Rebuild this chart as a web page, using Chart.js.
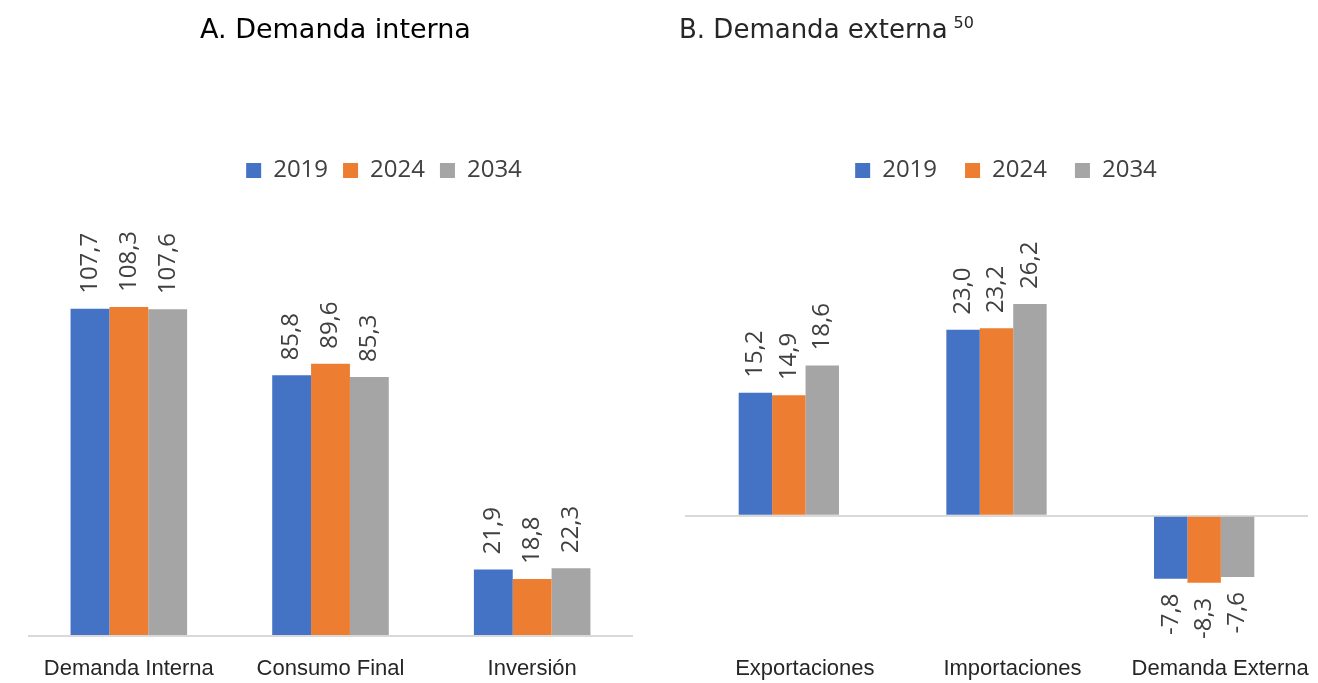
<!DOCTYPE html>
<html lang="es">
<head>
<meta charset="utf-8">
<title>Demanda interna y externa</title>
<script src="https://cdn.jsdelivr.net/npm/chart.js@4.4.1/dist/chart.umd.min.js"></script>
<style>
  html, body { margin: 0; padding: 0; background: #fff; overflow: hidden; }
  body { width: 1318px; height: 683px; position: relative; }
  .titulo { position: absolute; top: 12px; font-family: "DejaVu Sans", sans-serif; white-space: nowrap; line-height: 34px; z-index: 2; }
  #titA { left: 200px; font-size: 27px; color: #000; }
  #titB { left: 679px; font-size: 26px; color: #262626; }
  #titB sup { font-size: 16px; line-height: 0; vertical-align: 10px; margin-left: 6px; }
  .panel { position: absolute; top: 0; height: 683px; }
  #panelA { left: 0; width: 768px; }
  #panelB { left: 672px; width: 668px; }
</style>
</head>
<body>
<div class="titulo" id="titA">A. Demanda interna</div>
<div class="titulo" id="titB">B. Demanda externa<sup>50</sup></div>
<div class="panel" id="panelA"><canvas id="graficoA"></canvas></div>
<div class="panel" id="panelB"><canvas id="graficoB"></canvas></div>
<script>
// datos
const anios = ['2019', '2024', '2034'];
const colores = ['#4472C4', '#ED7D31', '#A5A5A5'];

const categoriasA = ['Demanda Interna', 'Consumo Final', 'Inversión'];
const interna2019 = [107.7, 85.8, 21.9];
const interna2024 = [108.3, 89.6, 18.8];
const interna2034 = [107.6, 85.3, 22.3];

const categoriasB = ['Exportaciones', 'Importaciones', 'Demanda Externa'];
const externa2019 = [15.2, 23.0, -7.8];
const externa2024 = [14.9, 23.2, -8.3];
const externa2034 = [18.6, 26.2, -7.6];

// etiquetas giradas encima / debajo de cada barra
const etiquetas = {
  id: 'etiquetas',
  afterDatasetsDraw(chart) {
    const ctx = chart.ctx;
    ctx.save();
    ctx.font = '24px "Open Sans"';
    ctx.fillStyle = '#404040';
    ctx.textBaseline = 'middle';
    chart.data.datasets.forEach((ds, i) => {
      chart.getDatasetMeta(i).data.forEach((bar, j) => {
        const v = ds.data[j];
        const txt = v.toFixed(1).replace('.', ',');
        ctx.save();
        if (v >= 0) {
          ctx.translate(bar.x, bar.y - 15);
          ctx.textAlign = 'left';
        } else {
          ctx.translate(bar.x, bar.y + 15);
          ctx.textAlign = 'right';
        }
        ctx.rotate(-Math.PI / 2);
        ctx.fillText(txt, 0, 0);
        ctx.restore();
      });
    });
    ctx.restore();
  }
};

function series(valores) {
  return valores.map((d, i) => ({
    label: anios[i],
    data: d,
    backgroundColor: colores[i],
    borderWidth: 0
  }));
}

function opciones(cfg) {
  return {
    responsive: true,
    maintainAspectRatio: false,
    animation: false,
    // la leyenda termina siempre 22px bajo su centro (158.5 + 12 + 22 = 192.5)
    layout: { padding: { top: 158.5 - cfg.sep, left: 0, right: 0, bottom: 0 } },
    datasets: { bar: { barPercentage: 1, categoryPercentage: cfg.ancho } },
    plugins: {
      tooltip: { enabled: false },
      legend: {
        position: 'top',
        labels: {
          boxWidth: 15,
          boxHeight: 15,
          padding: cfg.sep,
          color: '#404040',
          font: { family: 'Open Sans', size: 24 }
        }
      }
    },
    scales: {
      x: {
        grid: { display: false },
        border: { display: false },
        ticks: {
          color: '#262626',
          padding: 12,
          labelOffset: cfg.desplaz,
          maxRotation: 0,
          font: { family: 'Liberation Sans', size: 22 }
        },
        afterFit: s => { s.height = 47; }
      },
      y: {
        min: cfg.min,
        max: cfg.max,
        border: { display: false },
        ticks: { display: false },
        grid: { color: '#d9d9d9', lineWidth: 2, drawTicks: false },
        afterBuildTicks: s => { s.ticks = [{ value: 0 }]; },
        afterFit: s => { s.width = cfg.izq; }
      },
      relleno: {
        type: 'linear',
        axis: 'y',
        position: 'right',
        grid: { display: false },
        border: { display: false },
        ticks: { display: false },
        afterFit: s => { s.width = cfg.der; }
      }
    }
  };
}

new Chart(document.getElementById('graficoA'), {
  type: 'bar',
  data: { labels: categoriasA, datasets: series([interna2019, interna2024, interna2034]) },
  options: opciones({ ancho: 0.578, min: 0, max: 146, izq: 28, der: 135, desplaz: 0, sep: 15 }),
  plugins: [etiquetas]
});

new Chart(document.getElementById('graficoB'), {
  type: 'bar',
  data: { labels: categoriasB, datasets: series([externa2019, externa2024, externa2034]) },
  options: opciones({ ancho: 0.483, min: -14.9, max: 40, izq: 13, der: 32, desplaz: 16, sep: 28 }),
  plugins: [etiquetas]
});
</script>
</body>
</html>
